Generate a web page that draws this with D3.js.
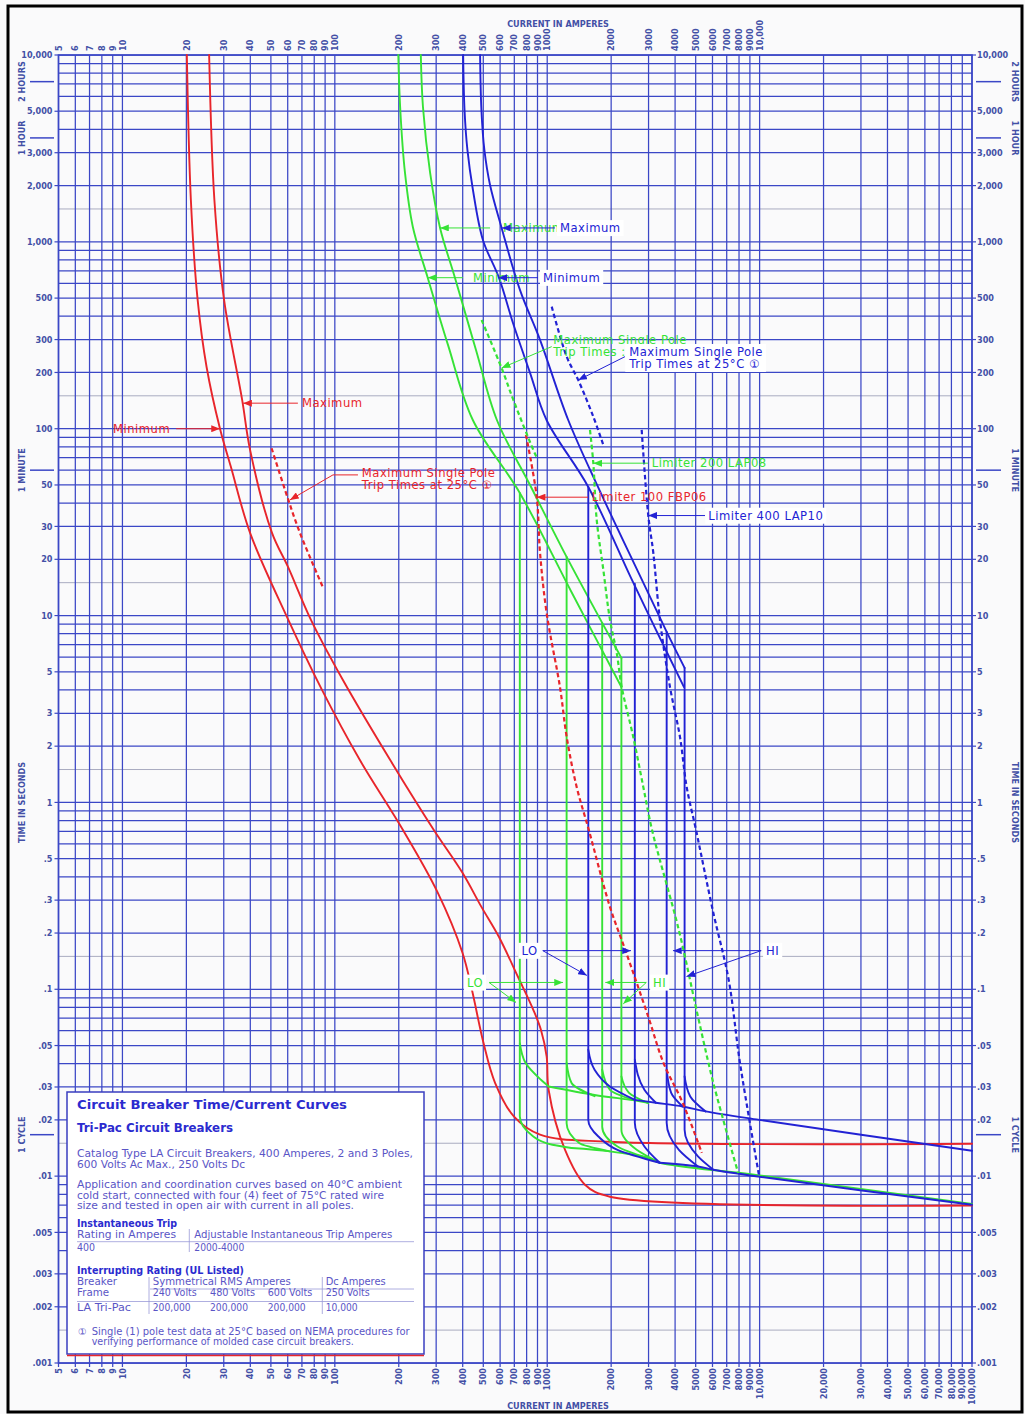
<!DOCTYPE html>
<html><head><meta charset="utf-8">
<script src="https://cdn.jsdelivr.net/npm/d3@7"></script>
<style>body{margin:0;background:#fafafb}svg{display:block}</style>
</head><body>
<svg id="c" width="1025" height="1414"></svg>
<script>
// ---------- axis data ----------
const CURRENT_TICKS = [5,6,7,8,9,10,20,30,40,50,60,70,80,90,100,200,300,400,500,600,700,800,900,1000,2000,3000,4000,5000,6000,7000,8000,9000,10000,20000,30000,40000,50000,60000,70000,80000,90000,100000];
const CURRENT_LABELS = ["5","6","7","8","9","10","20","30","40","50","60","70","80","90","100","200","300","400","500","600","700","800","900","1000","2000","3000","4000","5000","6000","7000","8000","9000","10,000","20,000","30,000","40,000","50,000","60,000","70,000","80,000","90,000","100,000"];
const TOP_LABEL_COUNT = 33;
const TIME_TICKS = [10000,5000,3000,2000,1000,500,300,200,100,50,30,20,10,5,3,2,1,0.5,0.3,0.2,0.1,0.05,0.03,0.02,0.01,0.005,0.003,0.002,0.001];
const TIME_LABELS = ["10,000","5,000","3,000","2,000","1,000","500","300","200","100","50","30","20","10","5","3","2","1",".5",".3",".2",".1",".05",".03",".02",".01",".005",".003",".002",".001"];
const TIME_MARKS = [[7200,"2 HOURS"],[3600,"1 HOUR"],[60,"1 MINUTE"],[1/60,"1 CYCLE"]];

// ---------- red curves (amps, seconds) ----------
const redMin = [[20.1,10000],[21,1675],[22.6,489],[24.9,214],[28.8,100],[32.4,62.5],[39.9,27.7],[59.5,9.84],[87,4.0],[131,1.69],[209,0.714],[304,0.332],[399,0.157],[442,0.0994],[501,0.0517],[568,0.0316],[698,0.0208],[925,0.01666],[1975,0.01528],[100000,0.0149]];
const redMax = [[25.6,10000],[27.1,1675],[30.1,489],[36.6,143],[39.9,77],[50.6,27.7],[60.2,18.2],[77.2,9.48],[109,4.53],[182,1.69],[292,0.714],[399,0.42],[490,0.276],[592,0.191],[728,0.1167],[860,0.0777],[934,0.0607],[994,0.0436],[1015,0.029],[1212,0.01385],[1506,0.009],[1975,0.00776],[100000,0.00697]];
const redSinglePole = [[50.4,78.6],[60.4,41.6],[68.5,27.7],[88.3,14.0]];
const redLimiter = [[794,92.6],[892,43.3],[925,21.7],[994,10.3],[1148,4.15],[1235,2.24],[1376,1.21],[1569,0.714],[1972,0.277],[2328,0.163],[2988,0.0715],[3526,0.0404],[4343,0.0247],[5342,0.01334]];

// ---------- green curves ----------
const greenMin = [[199,10000],[203,5270],[214,2337],[233,1201],[274,641],[341,281],[447,111],[743,45.3],[1308,13.2],[2235,4.15]];
const greenMax = [[254,10000],[260,5270],[281,2337],[313,1187],[368,641],[462,264],[580,111],[830,50],[1234,20.6],[1815,9.14],[2235,5.94]];
const greenInst = [
  {amps:743,  top:45.3, low:[[743,0.0209],[860,0.0163],[1057,0.01472],[1302,0.01414]], up:[[743,0.0515],[791,0.0403],[934,0.0328],[1015,0.0302]]},
  {amps:1234, top:20.6, low:[[1234,0.0192],[1414,0.01503],[1972,0.01356]], up:[[1234,0.0403],[1302,0.0315],[1671,0.0268]]},
  {amps:1815, top:9.14, low:[[1815,0.0184],[2142,0.01442],[2988,0.0125]], up:[[1815,0.0371],[1972,0.029],[2531,0.0256]]},
  {amps:2235, top:5.94, low:[[2235,0.0177],[2638,0.01384],[3384,0.0118]], up:[[2235,0.0342],[2427,0.0279],[2988,0.0246]]}
];
const greenUpper = [[1015,0.0302],[1671,0.0272],[2531,0.0255],[2988,0.0247]];
const greenLower = [[1302,0.01414],[1972,0.01356],[2988,0.0125],[3384,0.0118],[9960,0.0101],[100000,0.0071]];
const greenSinglePole = [[491,382],[610,211],[692,143],[860,77],[895,69.8]];
const greenLimiter = [[1590,98.5],[1648,65.6],[1710,32.5],[1837,17.6],[1975,9.48],[2124,6.32],[2242,4.15],[2542,2.24],[2834,1.21],[3114,0.714],[4163,0.208],[5126,0.0715],[6053,0.0316],[7925,0.0104]];

// ---------- blue curves ----------
const blueMin = [[402,10000],[408,5078],[421,3103],[447,1895],[498,1024],[593,641],[690,368],[830,199],[994,111],[1561,48.8],[2480,15.9],[3251,8.39],[4400,4.15]];
const blueMax = [[483,10000],[490,5078],[506,3103],[538,2015],[610,1187],[744,553],[925,299],[1257,111],[1734,48.8],[2764,15.9],[3651,8.18],[4434,5.25]];
const blueInst = [
  {amps:1561, top:48.8, low:[[1561,0.02],[1741,0.0163],[2142,0.01384],[3384,0.0118]], up:[[1561,0.0475],[1671,0.0371],[1972,0.0302],[2585,0.0256]]},
  {amps:2585, top:14.8, low:[[2585,0.0193],[2868,0.01442],[3384,0.0118]], up:[[2585,0.042],[2868,0.029],[3247,0.0247]]},
  {amps:3651, top:8.18, low:[[3651,0.0193],[4168,0.01384],[5126,0.01127]], up:[[3651,0.0371],[3834,0.0279],[4343,0.0236]]},
  {amps:4434, top:5.25, low:[[4434,0.0177],[5126,0.01275],[6053,0.01082]], up:[[4434,0.0342],[4715,0.0267],[5574,0.0222]]}
];
const blueUpper = [[2585,0.0256],[3247,0.0247],[4343,0.0236],[5574,0.0222],[9960,0.02],[100000,0.01367]];
const blueLower = [[3384,0.0118],[5126,0.01127],[6053,0.01082],[9960,0.00993],[100000,0.00703]];
const blueSinglePole = [[1050,450],[1235,243],[1400,182],[1648,116],[1837,81.9]];
const blueLimiter = [[2785,98.5],[2991,34.3],[3158,21.7],[3395,9.48],[3784,4.15],[4218,2.24],[4535,1.21],[5016,0.714],[6053,0.257],[7151,0.1124],[8082,0.0404],[9960,0.00993]];

// ---------- annotations (anchors in amps / seconds) ----------
const RED = "#e8252b", GREEN = "#36e236", BLUE = "#2222d4";
const texts = [
  {c:RED, lines:["Maximum"], at:[70,137]},
  {c:RED, lines:["Minimum"], at:[9.03,100]},
  {c:RED, lines:["Maximum Single Pole","Trip Times at 25°C \u2460"], at:[134,58], lh:12},
  {c:GREEN, lines:["Maximum"], at:[619,1187]},
  {c:GREEN, lines:["Minimum"], at:[447,643]},
  {c:GREEN, lines:["Maximum Single Pole","Trip Times :"], at:[1068,299], lh:12},
  {c:GREEN, lines:["Limiter 200 LAP08"], at:[3104,65.4]},
  {c:RED, lines:["Limiter 100 FBP06"], at:[1619,43]},
  {c:GREEN, lines:["LO"], at:[457,0.1088], box:true, mid:true},
  {c:GREEN, lines:["HI"], at:[3384,0.1088], box:true, mid:true}
];
const arrows = [
  {c:RED, pts:[[67,137],[37,137]]},
  {c:RED, pts:[[17.9,100],[28.8,100]]},
  {c:RED, pts:[[128.5,56.6],[98,56.6],[61.5,41.6]]},
  {c:GREEN, pts:[[538,1187],[313,1187]]},
  {c:GREEN, pts:[[401,643],[274,643]]},
  {c:GREEN, pts:[[1050,275],[610,211.5]]},
  {c:GREEN, pts:[[2981,65.4],[1648,65.4]]},
  {c:RED, pts:[[1556,43],[892,43]]},
  {c:GREEN, pts:[[532,0.1088],[1187,0.1088]]},
  {c:GREEN, pts:[[532,0.1088],[713,0.085]]},
  {c:GREEN, pts:[[2927,0.1088],[1877,0.1088]]},
  {c:GREEN, pts:[[2927,0.1088],[2281,0.0836]]},
  {c:BLUE, pts:[[1088,1187],[612,1187]]},
  {c:BLUE, pts:[[905,643],[588,643]]},
  {c:BLUE, pts:[[2323,243],[1400,182]]},
  {c:BLUE, pts:[[5532,34.3],[2991,34.3]]},
  {c:BLUE, pts:[[953,0.161],[2480,0.161]]},
  {c:BLUE, pts:[[953,0.161],[1538,0.1186]]},
  {c:BLUE, pts:[[10170,0.161],[3909,0.161]]},
  {c:BLUE, pts:[[10170,0.161],[4526,0.117]]}
];
const blueTexts = [
  {c:BLUE, lines:["Maximum"], at:[1148,1187], box:true},
  {c:BLUE, lines:["Minimum"], at:[955,643], box:true},
  {c:BLUE, lines:["Maximum Single Pole","Trip Times at 25°C \u2460"], at:[2434,258], lh:12, box:true},
  {c:BLUE, lines:["Limiter 400 LAP10"], at:[5732,34.3], box:true},
  {c:BLUE, lines:["LO"], at:[825,0.161], box:true, mid:true},
  {c:BLUE, lines:["HI"], at:[11520,0.161], box:true, mid:true}
];

// ---------- legend box text ----------
const legendLines = [
  ["Circuit Breaker Time/Current Curves",77,1109,270,"b"],
  ["Tri-Pac Circuit Breakers",77,1132,156,"b"],
  ["Catalog Type LA Circuit Breakers, 400 Amperes, 2 and 3 Poles,",77,1157,336],
  ["600 Volts Ac Max., 250 Volts Dc",77,1167.5,168],
  ["Application and coordination curves based on 40°C ambient",77,1188,325],
  ["cold start, connected with four (4) feet of 75°C rated wire",77,1198.5,307],
  ["size and tested in open air with current in all poles.",77,1209,277],
  ["Instantaneous Trip",77,1227,100,"s"],
  ["Rating in Amperes",77,1238,99],
  ["Adjustable Instantaneous Trip Amperes",194.3,1238,198],
  ["400",77,1251,18],
  ["2000-4000",194.3,1251,50],
  ["Interrupting Rating (UL Listed)",77,1274,167,"s"],
  ["Breaker",77,1285,40],
  ["Symmetrical RMS Amperes",152.7,1285,138],
  ["Dc Amperes",325.7,1285,60],
  ["Frame",77,1296,32],
  ["240 Volts",152.7,1296,44],
  ["480 Volts",210,1296,45],
  ["600 Volts",267.7,1296,44.6],
  ["250 Volts",325.7,1296,44],
  ["LA Tri-Pac",77,1311,54],
  ["200,000",152.7,1311,38],
  ["200,000",210,1311,38],
  ["200,000",267.7,1311,38],
  ["10,000",325.7,1311,32],
  ["\u2460",78,1334.5,null],
  ["Single (1) pole test data at 25°C based on NEMA procedures for",91.7,1334.5,318],
  ["verifying performance of molded case circuit breakers.",91.7,1345,262]
];

// ---------- drawing ----------
const svg = d3.select("#c");
const W = 1025, H = 1414;
const x = d3.scaleLog().domain([5,100000]).range([58.5,972]);
const y = d3.scaleLog().domain([10000,0.001]).range([55,1363]);
const GRID = "#3b47c6", LABEL = "#4350a6";
const NARROW = "'Liberation Sans Narrow','DejaVu Sans Condensed','Arial Narrow',sans-serif";
const SANS = "'DejaVu Sans','Liberation Sans',Arial,sans-serif";

svg.append("rect").attr("width",W).attr("height",H).attr("fill","#fafafb");
svg.append("rect").attr("x",8).attr("y",6).attr("width",1014).attr("height",1406)
  .attr("fill","none").attr("stroke","#000").attr("stroke-width",3);

const defs = svg.append("defs");
function mk(id,color){
  defs.append("marker").attr("id",id).attr("viewBox","0 0 10 8").attr("refX",10).attr("refY",4)
    .attr("markerWidth",9).attr("markerHeight",7).attr("orient","auto").attr("markerUnits","userSpaceOnUse")
    .append("path").attr("d","M0,0L10,4L0,8Z").attr("fill",color);
}
mk("aR",RED); mk("aG",GREEN); mk("aB",BLUE);
const mkId = c => c===RED?"aR":c===GREEN?"aG":"aB";

// grid
const g = svg.append("g");
const timeGrid = [];
for (let k=-3;k<=3;k++) [1,1.5,2,3,4,5,6,7,8,9].forEach(m=>timeGrid.push(+(m*Math.pow(10,k)).toPrecision(3)));
timeGrid.push(10000);
timeGrid.forEach(v=>{
  const minor = String(v).replace(/[0.]/g,"").startsWith("15");
  g.append("line").attr("x1",x(5)).attr("x2",x(100000)).attr("y1",y(v)).attr("y2",y(v))
    .attr("stroke",minor?"#a9abc0":GRID).attr("stroke-width",minor?1:1.25);
});
CURRENT_TICKS.forEach(v=>{
  g.append("line").attr("x1",x(v)).attr("x2",x(v)).attr("y1",y(10000)).attr("y2",y(0.001))
    .attr("stroke",GRID).attr("stroke-width",1.25);
  g.append("line").attr("x1",x(v)).attr("x2",x(v)).attr("y1",y(0.001)).attr("y2",y(0.001)+4)
    .attr("stroke",GRID).attr("stroke-width",1.25);
});
g.append("rect").attr("x",x(5)).attr("y",y(10000)).attr("width",x(100000)-x(5)).attr("height",y(0.001)-y(10000))
  .attr("fill","none").attr("stroke",GRID).attr("stroke-width",1.6);
TIME_TICKS.forEach(v=>{
  g.append("line").attr("x1",x(5)-4).attr("x2",x(5)).attr("y1",y(v)).attr("y2",y(v)).attr("stroke",GRID).attr("stroke-width",1.2);
  g.append("line").attr("x1",x(100000)).attr("x2",x(100000)+4).attr("y1",y(v)).attr("y2",y(v)).attr("stroke",GRID).attr("stroke-width",1.2);
});

// axis labels
const lab = svg.append("g").attr("fill",LABEL).attr("font-family",NARROW).attr("font-weight","bold").attr("font-size",9);
TIME_TICKS.forEach((v,i)=>{
  lab.append("text").attr("x",x(5)-6).attr("y",y(v)).attr("dy","0.35em").attr("text-anchor","end").text(TIME_LABELS[i]);
  lab.append("text").attr("x",x(100000)+5).attr("y",y(v)).attr("dy","0.35em").attr("text-anchor","start").text(TIME_LABELS[i]);
});
CURRENT_TICKS.forEach((v,i)=>{
  if (i<TOP_LABEL_COUNT)
    lab.append("text").attr("transform",`translate(${x(v)},${y(10000)-4}) rotate(-90)`).attr("dy","0.35em").attr("text-anchor","start").text(CURRENT_LABELS[i]);
  lab.append("text").attr("transform",`translate(${x(v)},${y(0.001)+5}) rotate(-90)`).attr("dy","0.35em").attr("text-anchor","end").text(CURRENT_LABELS[i]);
});
lab.append("text").attr("x",558).attr("y",27).attr("text-anchor","middle").text("CURRENT IN AMPERES");
lab.append("text").attr("x",558).attr("y",1409).attr("text-anchor","middle").text("CURRENT IN AMPERES");
TIME_MARKS.forEach(([v,t])=>{
  svg.append("line").attr("x1",30).attr("x2",54).attr("y1",y(v)).attr("y2",y(v)).attr("stroke",GRID).attr("stroke-width",1.5);
  svg.append("line").attr("x1",976).attr("x2",1001).attr("y1",y(v)).attr("y2",y(v)).attr("stroke",GRID).attr("stroke-width",1.5);
  lab.append("text").attr("transform",`translate(22,${y(v)}) rotate(-90)`).attr("dy","0.35em").attr("text-anchor","middle").text(t);
  lab.append("text").attr("transform",`translate(1015,${y(v)}) rotate(90)`).attr("dy","0.35em").attr("text-anchor","middle").text(t);
});
lab.append("text").attr("transform",`translate(22,${y(1)}) rotate(-90)`).attr("dy","0.35em").attr("text-anchor","middle").text("TIME IN SECONDS");
lab.append("text").attr("transform",`translate(1015,${y(1)}) rotate(90)`).attr("dy","0.35em").attr("text-anchor","middle").text("TIME IN SECONDS");

// curves
const smooth = d3.line().x(d=>x(d[0])).y(d=>y(d[1])).curve(d3.curveCatmullRom.alpha(0.5));
const hook = d3.line().x(d=>x(d[0])).y(d=>y(d[1])).curve(d3.curveMonotoneY);
const cg = svg.append("g").attr("fill","none").attr("stroke-linejoin","round");
function draw(data,color,dash,w,gen){
  cg.append("path").attr("d",(gen||smooth)(data)).attr("stroke",color).attr("stroke-width",w||1.9)
    .attr("stroke-dasharray",dash?"4.5,3":null).attr("stroke-linecap",dash?"butt":"round");
}
function inst(list,color){
  list.forEach(d=>{
    draw([[d.amps,d.top]].concat(d.low),color,false,1.9,hook);
    draw(d.up,color,false,1.9,hook);
  });
}
draw(redMin,RED); draw(redMax,RED);
draw(greenMin,GREEN); draw(greenMax,GREEN); inst(greenInst,GREEN); draw(greenUpper,GREEN); draw(greenLower,GREEN);
draw(blueMin,BLUE); draw(blueMax,BLUE); inst(blueInst,BLUE); draw(blueUpper,BLUE); draw(blueLower,BLUE);
draw(redSinglePole,RED,true,2.2); draw(redLimiter,RED,true,2.2);
draw(greenSinglePole,GREEN,true,2.2); draw(greenLimiter,GREEN,true,2.2);
draw(blueSinglePole,BLUE,true,2.2); draw(blueLimiter,BLUE,true,2.2);

// legend box
const lb = svg.append("g");
lb.append("rect").attr("x",67).attr("y",1092).attr("width",357).attr("height",262).attr("fill","#fff").attr("stroke","#3a3ec0").attr("stroke-width",1.5);
lb.append("line").attr("x1",67).attr("x2",424).attr("y1",1355.5).attr("y2",1355.5).attr("stroke",RED).attr("stroke-width",1.5);
[[77,414,1241.7,1241.7],[189.3,189.3,1229,1252],[150,414,1289,1289],[77,414,1301.5,1301.5],[149,149,1277,1314],[322.3,322.3,1277,1314]]
  .forEach(l=>lb.append("line").attr("x1",l[0]).attr("x2",l[1]).attr("y1",l[2]).attr("y2",l[3]).attr("stroke","#9a9ad8").attr("stroke-width",0.8));
legendLines.forEach(([t,lx,ly,len,b])=>{
  const tx = lb.append("text").attr("x",lx).attr("y",ly).text(t).attr("font-family",SANS)
    .attr("font-size",b==="b"?12:b==="s"?10.5:9.6).attr("font-weight",b?"bold":"normal")
    .attr("fill",b?"#2b2bcf":"#5a55c6");
  if (len) tx.attr("textLength",len).attr("lengthAdjust","spacingAndGlyphs");
});

// annotations
const an = svg.append("g").attr("font-family",SANS).attr("font-size",11.6).attr("letter-spacing",0.5);
function putText(d){
  const gg = an.append("g");
  const lh = d.lh||12;
  const x0 = x(d.at[0]), y0 = y(d.at[1]);
  d.lines.forEach((s,i)=>gg.append("text").attr("x",x0).attr("y",y0+i*lh).attr("dy","0.36em")
     .attr("text-anchor",d.mid?"middle":"start").attr("fill",d.c).text(s));
  if (d.box){
    const bb = gg.node().getBBox();
    gg.insert("rect","text").attr("x",bb.x-3).attr("y",bb.y-1).attr("width",bb.width+6).attr("height",bb.height+2).attr("fill","#fff");
  }
}
function putArrow(a){
  an.append("path").attr("d",d3.line().x(d=>x(d[0])).y(d=>y(d[1]))(a.pts)).attr("fill","none")
    .attr("stroke",a.c).attr("stroke-width",1).attr("marker-end",`url(#${mkId(a.c)})`);
}
arrows.filter(a=>a.c!==BLUE).forEach(putArrow);
texts.filter(t=>!t.box).forEach(putText);
arrows.filter(a=>a.c===BLUE).forEach(putArrow);
texts.filter(t=>t.box).forEach(putText);
blueTexts.forEach(putText);
</script>
</body></html>
